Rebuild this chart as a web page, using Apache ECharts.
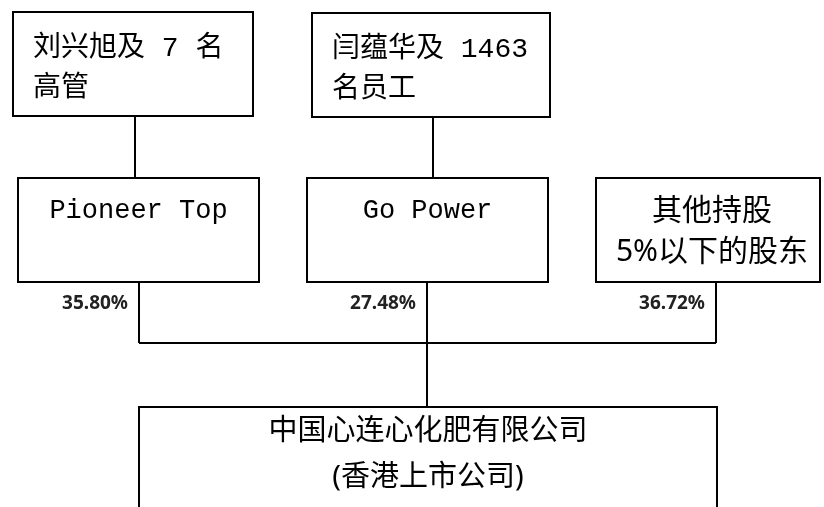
<!DOCTYPE html>
<html>
<head>
<meta charset="utf-8">
<title>股权结构</title>
<script src="https://cdn.jsdelivr.net/npm/echarts@6/dist/echarts.min.js"></script>
<style>
html, body { margin: 0; padding: 0; background: #fff; }
#main { width: 824px; height: 507px; }
</style>
</head>
<body>
<div id="main"></div>
<script type="text/javascript">
// data
var ownerNames = ['刘兴旭及 7 名\n高管', '闫蕴华及 1463\n名员工'];
var holderNames = ['Pioneer Top', 'Go Power', '其他持股\n5%以下的股东'];
var shareValues = [35.80, 27.48, 36.72];
var companyName = '中国心连心化肥有限公司\n(香港上市公司)';

// layout: [x, y, w, h]
var ownerBoxes = [[13, 12, 240, 104], [312, 13, 238, 104]];
var holderBoxes = [[18, 178, 241, 104], [307, 178, 241, 104], [596, 178, 224, 104]];
var companyBox = [139, 407, 578, 130];
var ownerLinkX = [135, 433];
var holderLinkX = [139, 427, 716];
var busY = 343;

var serifCn = "'Liberation Mono', 'Noto Sans CJK SC'";
var sansCn = "'Noto Sans', 'Noto Sans CJK SC'";

var chart = echarts.init(document.getElementById('main'), null, {renderer: 'canvas'});

function box(b) {
    return {
        type: 'rect',
        shape: {x: b[0], y: b[1], width: b[2], height: b[3]},
        style: {fill: '#fff', stroke: '#000', lineWidth: 2},
        z: 1
    };
}

function line(points) {
    return {
        type: 'polyline',
        shape: {points: points},
        style: {stroke: '#000', lineWidth: 2, fill: null},
        z: 0
    };
}

var els = [];

// owners -> holders
for (var i = 0; i < ownerNames.length; i++) {
    var b = ownerBoxes[i];
    els.push(line([[ownerLinkX[i], b[1] + b[3]], [ownerLinkX[i], holderBoxes[i][1]]]));
    els.push(box(b));
    els.push({
        type: 'text', z: 2,
        style: {
            x: b[0] + 20, y: b[1] + 17,
            text: ownerNames[i],
            font: '28px ' + serifCn,
            lineHeight: 40,
            fill: '#000',
            textAlign: 'left',
            textVerticalAlign: 'top'
        }
    });
}

// holders -> bus
for (var j = 0; j < holderNames.length; j++) {
    var h = holderBoxes[j];
    els.push(line([[holderLinkX[j], h[1] + h[3]], [holderLinkX[j], busY]]));
    els.push(box(h));
    var isCn = j === 2;
    els.push({
        type: 'text', z: 2,
        style: {
            x: isCn ? 712 : h[0] + h[2] / 2,
            y: isCn ? 232 : 211,
            text: holderNames[j],
            font: isCn ? ('30px ' + sansCn) : ('27px ' + serifCn),
            lineHeight: 41,
            fill: '#000',
            textAlign: 'center',
            textVerticalAlign: 'middle'
        }
    });
    els.push({
        type: 'text', z: 2,
        style: {
            x: holderLinkX[j] - 11, y: 304,
            text: shareValues[j].toFixed(2) + '%',
            font: 'bold 19px ' + sansCn,
            fill: '#222',
            textAlign: 'right',
            textVerticalAlign: 'middle'
        }
    });
}

// bus and company link
els.push(line([[holderLinkX[0], busY], [holderLinkX[2], busY]]));
els.push(line([[holderLinkX[1], busY], [holderLinkX[1], companyBox[1]]]));
els.push(box(companyBox));
els.push({
    type: 'text', z: 2,
    style: {
        x: companyBox[0] + companyBox[2] / 2, y: 455,
        text: companyName,
        font: '29px ' + sansCn,
        lineHeight: 46,
        fill: '#000',
        textAlign: 'center',
        textVerticalAlign: 'middle'
    }
});

var option = {
    backgroundColor: '#fff',
    animation: false,
    graphic: {elements: els}
};
chart.setOption(option);
</script>
</body>
</html>
